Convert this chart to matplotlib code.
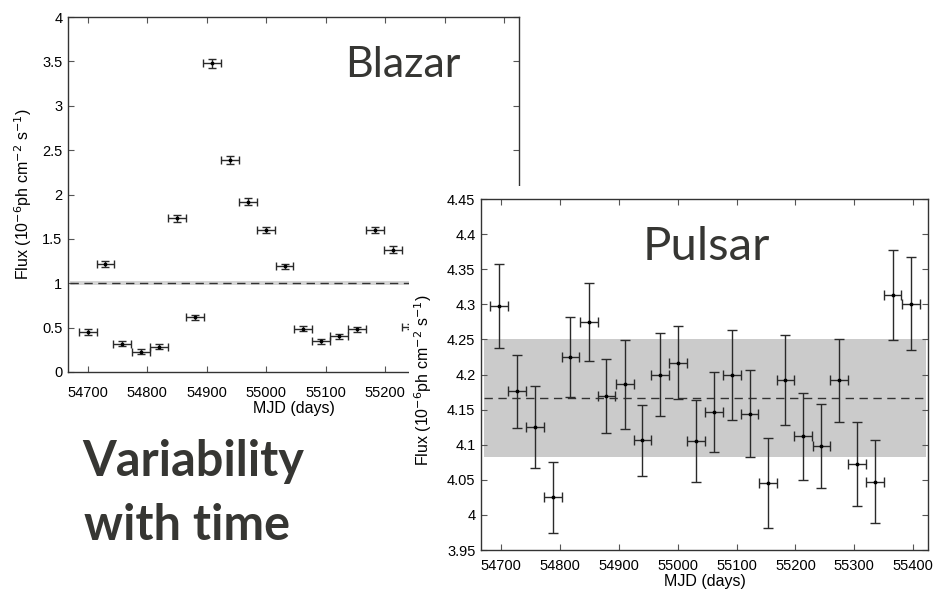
import matplotlib
matplotlib.use("Agg")
import matplotlib.pyplot as plt
from matplotlib.patches import Rectangle
from matplotlib.ticker import FuncFormatter

plt.rcParams['font.family'] = ['Liberation Sans', 'DejaVu Sans']

# blazar light curve
blazar_mjd = [54700, 54730, 54758, 54790, 54820, 54850, 54881, 54909, 54940, 54970,
              55000, 55031, 55062, 55092, 55123, 55153, 55183, 55213, 55244]
blazar_flux = [0.45, 1.22, 0.32, 0.23, 0.285, 1.73, 0.615, 3.48, 2.39, 1.92,
               1.60, 1.19, 0.49, 0.345, 0.40, 0.48, 1.60, 1.38, 0.51]
blazar_err = [0.03, 0.035, 0.025, 0.025, 0.025, 0.035, 0.03, 0.05, 0.045, 0.04,
              0.035, 0.03, 0.03, 0.025, 0.03, 0.03, 0.035, 0.04, 0.03]
blazar_mean = 1.0
blazar_band = (0.985, 1.02)

# pulsar light curve
pulsar_mjd = [54697, 54727, 54758, 54788, 54818, 54849, 54879, 54910, 54940, 54970,
              55001, 55031, 55062, 55092, 55122, 55153, 55183, 55213, 55244, 55274,
              55305, 55335, 55365, 55396]
pulsar_flux = [4.298, 4.176, 4.125, 4.025, 4.225, 4.275, 4.169, 4.186, 4.106, 4.200,
               4.217, 4.105, 4.146, 4.199, 4.144, 4.046, 4.192, 4.112, 4.098, 4.192,
               4.072, 4.047, 4.313, 4.301]
pulsar_err = [0.06, 0.052, 0.058, 0.051, 0.057, 0.056, 0.053, 0.063, 0.05, 0.059,
              0.052, 0.058, 0.057, 0.064, 0.062, 0.064, 0.064, 0.062, 0.06, 0.059,
              0.06, 0.059, 0.064, 0.066]
pulsar_mean = 4.166
pulsar_band = (4.082, 4.25)

bin_half = 15
xticks = list(range(54700, 55401, 100))
xtick_labels = [str(t) for t in xticks]
# labels 55300/55400 of the left panel sit under the right panel
blazar_xtick_labels = xtick_labels[:6] + ['', '']
blazar_yticks = [0, 0.5, 1, 1.5, 2, 2.5, 3, 3.5, 4]
pulsar_yticks = [3.95, 4.0, 4.05, 4.1, 4.15, 4.2, 4.25, 4.3, 4.35, 4.4, 4.45]

ylab = r"Flux (10$^{-6}$ph cm$^{-2}$ s$^{-1}$)"
txt_color = '#363633'


def style(ax, xpad):
    for s in ax.spines.values():
        s.set_color('#333333')
        s.set_linewidth(1.0)
    ax.tick_params(direction='in', top=True, right=True, length=4, width=0.8,
                   color='#555555', labelsize=10.5, pad=4)
    ax.tick_params(axis='x', pad=xpad)
    ax.yaxis.set_major_formatter(FuncFormatter(lambda v, p: "%g" % round(v, 2)))


fig = plt.figure(figsize=(9.35, 5.93), dpi=100)

# left panel
ax1 = fig.add_axes([0.0727, 0.3727, 0.4824, 0.5986])
ax1.set_zorder(1)
x0, x1 = blazar_mjd[0] - 30, blazar_mjd[-1] + 30
ax1.fill_between([x0, x1], blazar_band[0], blazar_band[1], color='#d6d6d6', lw=0)
ax1.plot([x0, x1], [blazar_mean, blazar_mean], color='#333333', lw=1,
         linestyle=(0, (6, 4)))
ax1.errorbar(blazar_mjd, blazar_flux, yerr=blazar_err, xerr=bin_half, fmt='.',
             color='black', ms=3.5, ecolor='#2a2a2a', elinewidth=1.0, capsize=3,
             capthick=1.0)
ax1.set_xlim(54667, 55425)
ax1.set_ylim(0, 4)
ax1.set_xticks(xticks, blazar_xtick_labels)
ax1.set_yticks(blazar_yticks)
style(ax1, 10)
ax1.set_xlabel("MJD (days)", fontsize=11.5, labelpad=1)
ax1.set_ylabel(ylab, fontsize=11.5)
ax1.yaxis.set_label_coords(-0.076, 0.5)

# white backing of the right panel
fig.patches.append(Rectangle((0.4374, 0), 0.5626, 0.6863, transform=fig.transFigure,
                             facecolor='white', edgecolor='none', zorder=2))

# right panel
ax2 = fig.add_axes([0.5144, 0.0725, 0.4781, 0.5919])
ax2.set_zorder(3)
p0, p1 = pulsar_mjd[0] - 25, pulsar_mjd[-1] + 25
ax2.fill_between([p0, p1], pulsar_band[0], pulsar_band[1], color='#cbcbcb', lw=0)
ax2.plot([p0, p1], [pulsar_mean, pulsar_mean], color='#333333', lw=1,
         linestyle=(0, (6, 4)))
ax2.errorbar(pulsar_mjd, pulsar_flux, yerr=pulsar_err, xerr=bin_half, fmt='.',
             color='black', ms=3.5, ecolor='#2a2a2a', elinewidth=1.0, capsize=3.5,
             capthick=1.0)
ax2.set_xlim(54666, 55425)
ax2.set_ylim(3.95, 4.45)
ax2.set_xticks(xticks, xtick_labels)
ax2.set_yticks(pulsar_yticks)
style(ax2, 6.5)
ax2.set_xlabel("MJD (days)", fontsize=11.5, labelpad=1)
ax2.set_ylabel(ylab, fontsize=11.5)
ax2.yaxis.set_label_coords(-0.106, 0.485)

# slide texts
fig.text(345 / 935, 1 - 77 / 593, "Blazar", fontsize=31, family='Lato',
         color=txt_color, zorder=5)
fig.text(643 / 935, 1 - 260 / 593, "Pulsar", fontsize=34, family='Lato',
         color=txt_color, zorder=5)
fig.text(82 / 935, 1 - 476 / 593, "Variability", fontsize=35,
         family='Lato', weight='bold', color=txt_color, zorder=5)
fig.text(84 / 935, 1 - 540 / 593, "with time", fontsize=35,
         family='Lato', weight='bold', color=txt_color, zorder=5)

fig.savefig("out.png", dpi=100)
